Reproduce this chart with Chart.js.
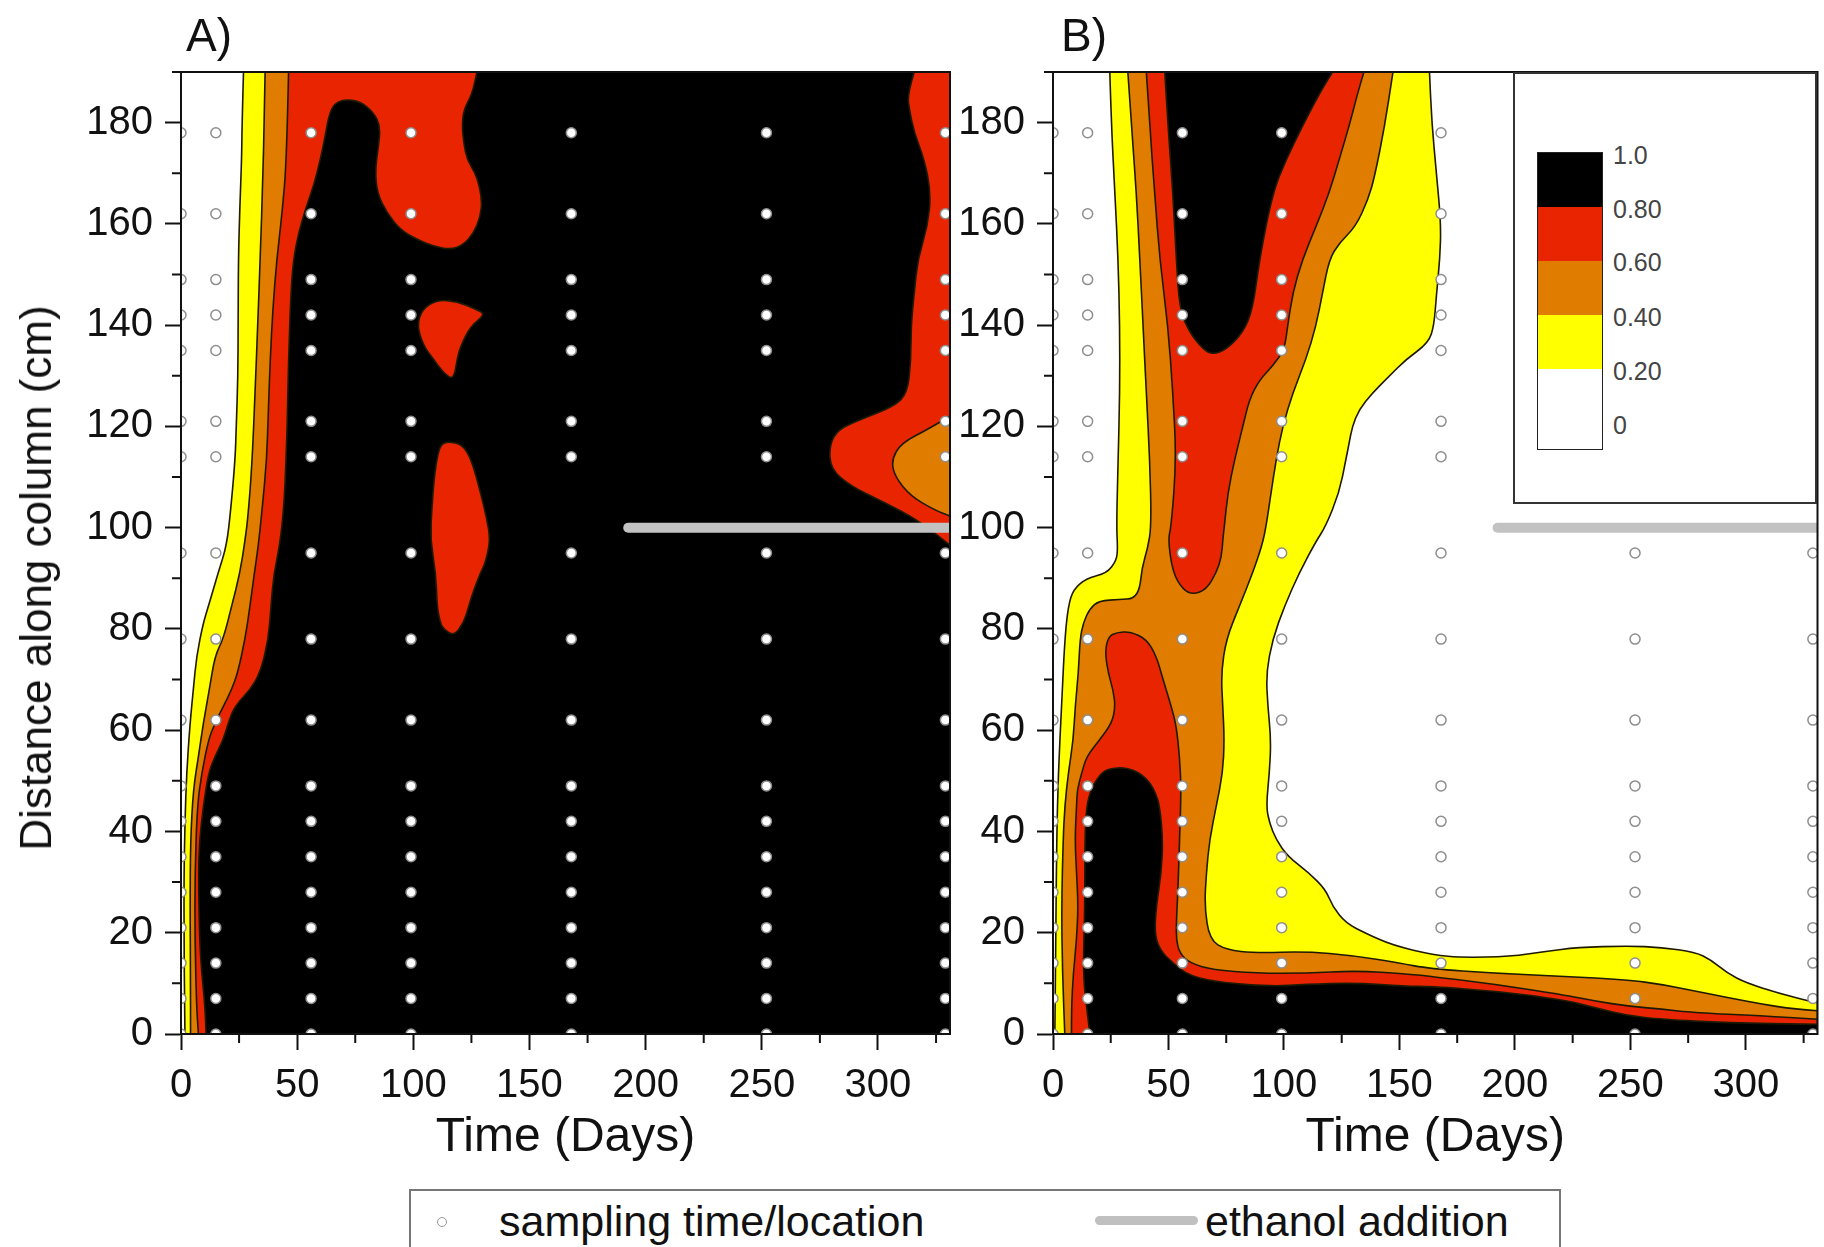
<!DOCTYPE html>
<html>
<head>
<meta charset="utf-8">
<script src="https://cdn.jsdelivr.net/npm/chart.js@4.4.1/dist/chart.umd.min.js"></script>
<style>
  body { margin: 0; background: #fff; width: 1824px; height: 1247px; overflow: hidden; position: relative;
         font-family: "Liberation Sans", Arial, sans-serif; color: #111; }
  canvas { position: absolute; top: 0; }
  #chartA { left: 0; }
  #chartB { left: 960px; }
  .panel-tag { position: absolute; top: 7px; font-size: 46px; line-height: 56px; }
  #yTitle { position: absolute; left: 36px; top: 578px; font-size: 44px; line-height: 50px; white-space: nowrap;
            transform: translate(-50%, -50%) rotate(-90deg); }
  #keyBox { position: absolute; left: 1513px; top: 72px; width: 300px; height: 428px; border: 2px solid #333; background: #fff; }
  #bar { position: absolute; left: 22px; top: 78px; width: 64px; border: 1.5px solid #222; }
  #bar div { height: 54px; }
  #barLabels div { position: absolute; left: 98px; font-size: 25px; color: #444; line-height: 30px; }
  #legend { position: absolute; left: 409px; top: 1189px; width: 1148px; height: 70px; border: 2px solid #777; background: #fff; }
  #legend span { position: absolute; top: 4px; font-size: 43px; line-height: 52px; }
</style>
</head>
<body>
<canvas id="chartA" width="960" height="1180"></canvas>
<canvas id="chartB" width="864" height="1180"></canvas>
<div class="panel-tag" style="left:186px">A)</div>
<div class="panel-tag" style="left:1061px">B)</div>
<div id="yTitle">Distance along column (cm)</div>

<div id="keyBox">
  <div id="bar"></div>
  <div id="barLabels"></div>
</div>

<div id="legend">
  <div style="position:absolute;left:26px;top:26px;width:8px;height:8px;border:1.5px solid #999;border-radius:50%"></div>
  <span style="left:88px">sampling time/location</span>
  <div style="position:absolute;left:684px;top:25px;width:103px;height:9px;border-radius:5px;background:#c0c0c0"></div>
  <span style="left:794px">ethanol addition</span>
</div>

<script>
// axis extents (days, cm)
const X_MAX = 331;
const Y_MAX = 190;

// sampling grid
const sampleTimes = [0, 15, 56, 99, 168, 252, 329];
const sampleDepths = [0, 7, 14, 21, 28, 35, 42, 49, 62, 78, 95, 114, 121, 135, 142, 149, 162, 178];

// ethanol addition: from about day 192, at 100 cm
const ethanolStart = 192.5;
const ethanolDepth = 100;

// contour levels (legend)
const levelLabels = ['1.0', '0.80', '0.60', '0.40', '0.20', '0'];

// ---- Panel A contour outlines [day, cm] ----
const A_yellow = [[26.9,190],[26.3,180],[26.1,172.7],[25.3,163],[24.7,153],[24.6,140],[24.5,130],[23.8,120],[23.3,113.4],[21.5,104],[19.7,96.5],[16,91.1],[11.8,84.5],[9.6,81.2],[6.7,74.7],[5.3,68],[3.9,61.4],[2.4,51.5],[1.7,41.7],[1.3,31.7],[1.3,18.6],[1.5,8],[1.7,0],[331,0],[331,190]];
const A_orange = [[36.2,190],[35.8,180],[35.3,170],[34.1,153],[33,140],[31.9,126.6],[30.5,112],[28.8,102],[27.6,97.6],[25.4,91.1],[21.8,84.5],[18.2,78],[14.6,74.7],[12.2,68],[9.6,61.4],[7.5,54.8],[5.3,48.3],[4.1,38.4],[3.9,25.2],[4.1,12],[4.1,0],[331,0],[331,190]];
const A_red = [[46.3,190],[45.5,172.7],[43.5,162],[41.2,153],[39.5,143],[38.4,133.2],[37.5,122],[36.9,113.4],[35,104],[33.3,96.5],[31.6,91.1],[29.7,84.5],[27.6,78],[24.4,71.3],[21.8,68],[18.2,64.7],[14.6,61.4],[11.8,58.1],[8.9,51.5],[7,45],[6,31.7],[6,18.6],[6.7,5.4],[7.5,0],[331,0],[331,190]];
const A_black = [[10.8,0],[10.4,5.4],[8.9,12],[8,18.6],[7.5,31.7],[8,38.4],[9.6,45],[11.8,51.5],[14.6,54.8],[18.2,58.1],[21.8,63.6],[25.4,65.9],[29.7,68],[34.1,71.3],[37.7,78],[38.8,85],[40,91],[42.5,96.5],[44.3,104],[45.2,113],[45.8,122],[46.3,133.2],[47.3,146.4],[48.4,153],[50.6,158.2],[53.5,162.8],[57.1,167.5],[60,172.7],[62.1,177.4],[63.6,181.3],[65.7,183.6],[70,184.6],[77.2,184.2],[83,181.9],[85.8,179.3],[85,175.3],[83.6,170.7],[84.4,166.1],[88.7,162.1],[94.4,158.8],[101.6,156.9],[108.8,155.6],[116,154.9],[121.7,155.9],[126,158.2],[128.9,161.4],[129.6,164.8],[127.4,169.4],[123.1,172.7],[121.7,176],[121,179.3],[121.7,182.6],[125.3,185.6],[127.4,190],[331,190],[331,0]];
const A_redRight = [[315.6,190],[312.7,185.6],[313.5,182.6],[315.6,178],[320,172.7],[322.8,166.1],[321.4,159.5],[317.1,153],[315.6,146.4],[314.2,139.8],[314.2,133.2],[312.7,126.6],[307,124],[292.7,121.4],[282.6,119.4],[279,116.1],[279.7,111.5],[288.4,108.2],[299.9,105.6],[314.2,102.3],[324.3,99],[331,96.5],[331,190]];
const A_orangeRight = [[331,122],[321.4,119.4],[310,116.7],[305.8,113.4],[307.2,110.1],[314.2,106.2],[324.3,103.5],[331,102.3]];
const A_redBlobMid = [[110.2,145],[118.8,144.7],[127.4,143.1],[131,142.1],[124.6,139.8],[120.3,135.8],[118.8,133.2],[117.4,129.2],[113.1,130.5],[108.8,133.2],[104.5,135.8],[101.6,139.8],[103.7,143.1]];
const A_redBlobLow = [[115,117],[121,116.5],[125,113.5],[128.9,107],[131.5,102],[133.2,97.6],[131,93],[128.9,91.1],[125.5,87],[123.9,84.5],[121.7,81.2],[117.4,78.6],[113,80],[111.6,81.2],[110.2,84.5],[109.7,91.1],[107.3,97.6],[108,104],[109,110],[110.5,114.5],[112,116.5]];

// ---- Panel B contour outlines [day, cm] ----
const B_yellow = [[24.6,190],[25.3,179.3],[26.8,166.1],[28.2,153],[28.9,139.8],[28.9,126.6],[28.2,113.4],[27.5,100.3],[28,96],[27.5,93.5],[23.2,91],[14.5,90],[8.8,87.8],[6.6,84.5],[5.1,78],[3.7,64.7],[2.3,51.5],[1.6,38.4],[1.2,18.6],[0.8,0],[331,0],[331,6.2],[328,6.4],[314,8.1],[300,10.1],[292,12],[285,14.6],[278,16.2],[263.5,17.1],[249,17.4],[227,17.1],[213,16.3],[198,15.3],[177,15.1],[165,15.6],[147,17.5],[135.4,19.9],[126.8,21.9],[121,25.2],[118.1,28.5],[110.9,31.8],[101.6,35.1],[96.6,38.4],[93.7,41.7],[92.3,45],[93.7,51.5],[94.4,58.1],[93,64.7],[92.3,71.3],[95.1,78],[100.2,84.5],[106.6,91.1],[113.5,97],[118.1,100.3],[123.9,106.9],[126.8,113.4],[128.2,116.7],[129.6,120],[132.5,123.3],[138.3,126.6],[145.5,129.9],[152.7,133.2],[162.6,136.5],[165,140],[166,146],[167.5,153],[168,160],[166,170],[164,180],[163,190]];
const B_orange = [[32.4,190],[34,179.3],[36.1,166.1],[37.6,153],[39,139.8],[40.4,126.6],[41.9,113.4],[42.6,100.3],[41,96],[38.5,92],[37.6,88],[35,86],[28.9,85.8],[20,85.6],[15.9,84],[13.1,81.2],[11.7,78],[11,71.3],[9.6,64.7],[8.8,58.1],[6.6,51.5],[5.1,45],[4.4,38.4],[3.7,25.2],[4.1,12],[5.1,0],[331,0],[331,4.6],[321,4.9],[306.7,5.9],[292,7.2],[278,8.5],[263.5,9.8],[249,10.7],[220.4,11.4],[191.6,12],[163,12.9],[150,14],[130,15.5],[109.5,16.3],[87.9,16],[75,16.6],[67.8,18.6],[65.6,25.2],[66.4,31.8],[67.8,38.4],[70.7,45],[73.5,51.5],[74.2,58.1],[73.5,64.7],[72.8,71.3],[75,78],[80.7,84.5],[86.5,91.1],[90.5,96.5],[92.3,100.3],[94.4,106.9],[96.6,113.4],[99.4,120],[103.8,126.6],[109.5,133.2],[113.9,139.8],[116.7,146.4],[119.6,153],[123.9,156.2],[131.1,159.5],[136.4,164.8],[139.3,169.4],[143.6,179.3],[147.2,190]];
const B_redUpper = [[40.4,190],[41.9,179.3],[44,166.1],[46.2,153],[49.8,139.8],[51.9,126.6],[53.4,113.4],[51.2,100.3],[49.8,97.6],[51.9,91.1],[56.2,87.8],[60.6,86.8],[66.4,87.8],[70.7,91.1],[73,94.3],[73.5,97.6],[74.2,100.3],[75.7,106.9],[78.6,113.4],[82.2,120],[85,125.3],[89.4,129.2],[95.1,131.9],[100.2,135.2],[101.6,139.8],[103.8,146.4],[108,153],[113.9,159.5],[119.6,166.1],[123.9,172.7],[128.2,179.3],[131.8,185.6],[134.6,190]];
const B_redLower = [[8,0],[8,5.4],[8.8,12],[10.2,18.6],[10.9,25.2],[10.2,31.8],[9.5,38.4],[10.2,45],[10.5,48.3],[12.4,51.5],[14.5,54.8],[20,58],[25.5,61.4],[27,64.7],[26,68],[23.9,71.3],[22.5,75.5],[24,78.5],[27.5,79.3],[33.3,79.5],[40.4,78],[44.7,74.7],[47.6,70.1],[51.2,64.7],[53.4,60.8],[54.8,54.8],[55.5,48.3],[54.8,38.4],[54.1,28.5],[53.4,21.9],[53.4,18.6],[54.8,16],[59.2,14],[69.2,12.7],[87.9,12],[109.5,12],[131.1,12.5],[152.7,11.9],[163,11.4],[191.6,9.8],[220.4,7.8],[234.7,6.5],[249,5.5],[263.5,4.9],[278,4.2],[306.7,3.6],[331,2.9],[331,0]];
const B_blackUpper = [[48.4,190],[49.8,179.3],[51.9,166.1],[53.4,153],[54.8,143.1],[59.2,138.5],[65,135.2],[69.2,134.2],[75,135.2],[82.2,138.5],[86.5,143.1],[89.4,153],[95.1,166.1],[100.9,172.7],[108,179.3],[115.2,185.6],[121,190]];
const B_blackLower = [[16,0],[14.5,5.4],[13,12],[13.8,25.2],[13.8,38.4],[14.5,45],[16.5,48.3],[18.8,50.2],[22,52],[26,52.5],[30,52.6],[34.7,52.2],[39,51],[42,49.6],[44.5,47.5],[46.2,45],[47.6,38.4],[46.9,31.8],[44.7,25.2],[44,19.9],[46.2,16.6],[51.9,14],[59.2,11.4],[73.5,10.1],[95.1,9.4],[109.5,9.8],[131.1,10.1],[152.7,9.4],[163,9.4],[191.6,8.5],[220.4,6.8],[234.7,5.2],[249,3.6],[263.5,2.9],[292,2.2],[331,1.9],[331,0]];

const fillColors = { '0.2': '#ffff00', '0.4': '#e07d00', '0.6': '#e82500', '0.8': '#000000' };

const layersA = [
  [A_yellow, '0.2'], [A_orange, '0.4'], [A_red, '0.6'], [A_black, '0.8'],
  [A_redRight, '0.6'], [A_orangeRight, '0.4'], [A_redBlobMid, '0.6'], [A_redBlobLow, '0.6']
];
const layersB = [
  [B_yellow, '0.2'], [B_orange, '0.4'], [B_redUpper, '0.6'], [B_redLower, '0.6'],
  [B_blackUpper, '0.8'], [B_blackLower, '0.8']
];

// key bar
const bar = document.getElementById('bar');
['#000', '#e82500', '#e07d00', '#ffff00', '#fff'].forEach((c, i) => {
  const d = document.createElement('div');
  d.style.background = c;
  if (i === 4) d.style.height = '80px';
  bar.appendChild(d);
});
const labelTops = [66, 120, 173, 228, 282, 336];
levelLabels.forEach((t, i) => {
  const d = document.createElement('div');
  d.textContent = t;
  d.style.top = labelTops[i] + 'px';
  document.getElementById('barLabels').appendChild(d);
});

// trace a closed outline, smoothing the inner corners, keeping points on the frame sharp
function tracePath(ctx, pts, xs, ys) {
  const sharp = p => p[0] <= 0 || p[0] >= X_MAX || p[1] <= 0 || p[1] >= Y_MAX;
  const P = pts.map(p => [xs.getPixelForValue(p[0]), ys.getPixelForValue(p[1])]);
  const n = P.length;
  const mid = (a, b) => [(a[0] + b[0]) / 2, (a[1] + b[1]) / 2];
  const start = pts.findIndex(sharp);
  if (start < 0) {
    const m0 = mid(P[n - 1], P[0]);
    ctx.moveTo(m0[0], m0[1]);
    for (let i = 0; i < n; i++) {
      const m = mid(P[i], P[(i + 1) % n]);
      ctx.quadraticCurveTo(P[i][0], P[i][1], m[0], m[1]);
    }
  } else {
    ctx.moveTo(P[start][0], P[start][1]);
    for (let k = 1; k < n; k++) {
      const i = (start + k) % n;
      if (sharp(pts[i])) {
        ctx.lineTo(P[i][0], P[i][1]);
      } else {
        const m = mid(P[i], P[(i + 1) % n]);
        ctx.quadraticCurveTo(P[i][0], P[i][1], m[0], m[1]);
      }
    }
  }
  ctx.closePath();
}

function contourPlugin(layers) {
  return {
    id: 'contours',
    beforeDatasetsDraw(chart) {
      const { ctx, chartArea: a, scales: { x, y } } = chart;
      ctx.save();
      ctx.beginPath();
      ctx.rect(a.left, a.top, a.width, a.height);
      ctx.clip();
      ctx.fillStyle = '#fff';
      ctx.fillRect(a.left, a.top, a.width, a.height);
      ctx.lineJoin = 'round';
      layers.forEach(([pts, level]) => {
        ctx.beginPath();
        tracePath(ctx, pts, x, y);
        ctx.fillStyle = fillColors[level];
        ctx.fill();
        ctx.lineWidth = 1.6;
        ctx.strokeStyle = '#1e1a00';
        ctx.stroke();
      });
      ctx.restore();
    }
  };
}

// frame round the plot and the short minor ticks
const framePlugin = {
  id: 'frame',
  afterDraw(chart) {
    const { ctx, chartArea: a, scales: { x, y } } = chart;
    ctx.save();
    ctx.strokeStyle = '#111';
    ctx.lineWidth = 2;
    ctx.strokeRect(a.left, a.top, a.width, a.height);
    ctx.beginPath();
    x.ticks.forEach(t => {
      if (t.value % 50 !== 0) {
        const px = x.getPixelForValue(t.value);
        ctx.moveTo(px, a.bottom);
        ctx.lineTo(px, a.bottom + 9);
      }
    });
    y.ticks.forEach(t => {
      if (t.value % 20 !== 0) {
        const py = y.getPixelForValue(t.value);
        ctx.moveTo(a.left - 9, py);
        ctx.lineTo(a.left, py);
      }
    });
    ctx.stroke();
    ctx.restore();
  }
};

Chart.defaults.font.family = '"Liberation Sans", Arial, sans-serif';
Chart.defaults.color = '#111';

const samplePoints = sampleTimes.flatMap(t => sampleDepths.map(d => ({ x: t, y: d })));

function makeChart(id, layers, yWidth, padRight) {
  new Chart(document.getElementById(id), {
    type: 'scatter',
    data: {
      datasets: [
        {
          label: 'sampling time/location',
          data: samplePoints,
          clip: 0,
          pointRadius: 5,
          pointHoverRadius: 5,
          pointBackgroundColor: '#fff',
          pointBorderColor: '#8e8e8e',
          pointBorderWidth: 1.5
        },
        {
          type: 'line',
          label: 'ethanol addition',
          data: [{ x: ethanolStart, y: ethanolDepth }, { x: X_MAX, y: ethanolDepth }],
          borderColor: '#c2c2c2',
          borderWidth: 10,
          borderCapStyle: 'round',
          pointRadius: 0,
          fill: false
        }
      ]
    },
    options: {
      responsive: false,
      animation: false,
      events: [],
      layout: { padding: { top: 72, right: padRight, left: 0, bottom: 0 } },
      plugins: { legend: { display: false }, tooltip: { enabled: false } },
      scales: {
        x: {
          type: 'linear', min: 0, max: X_MAX,
          ticks: { stepSize: 25, includeBounds: false, autoSkip: false, maxRotation: 0,
                   font: { size: 40 }, padding: 12,
                   callback: v => (v % 50 === 0 ? v : '') },
          grid: { drawOnChartArea: false, tickLength: 16, tickWidth: 2,
                  tickColor: c => (c.tick && c.tick.value % 50 === 0 ? '#111' : 'rgba(0,0,0,0)') },
          border: { color: '#111', width: 2 },
          title: { display: true, text: 'Time (Days)', font: { size: 48 }, padding: { top: 0, bottom: 13 } },
          afterFit: s => { s.height = 146; }
        },
        y: {
          type: 'linear', min: 0, max: Y_MAX,
          ticks: { stepSize: 10, autoSkip: false, font: { size: 40 }, padding: 12,
                   callback: v => (v % 20 === 0 ? v : '') },
          grid: { drawOnChartArea: false, tickLength: 16, tickWidth: 2,
                  tickColor: c => (c.tick && c.tick.value % 20 === 0 ? '#111' : 'rgba(0,0,0,0)') },
          border: { color: '#111', width: 2 },
          afterFit: s => { s.width = yWidth; }
        }
      }
    },
    plugins: [contourPlugin(layers), framePlugin]
  });
}

makeChart('chartA', layersA, 181, 10);
makeChart('chartB', layersB, 93, 4);
</script>
</body>
</html>
